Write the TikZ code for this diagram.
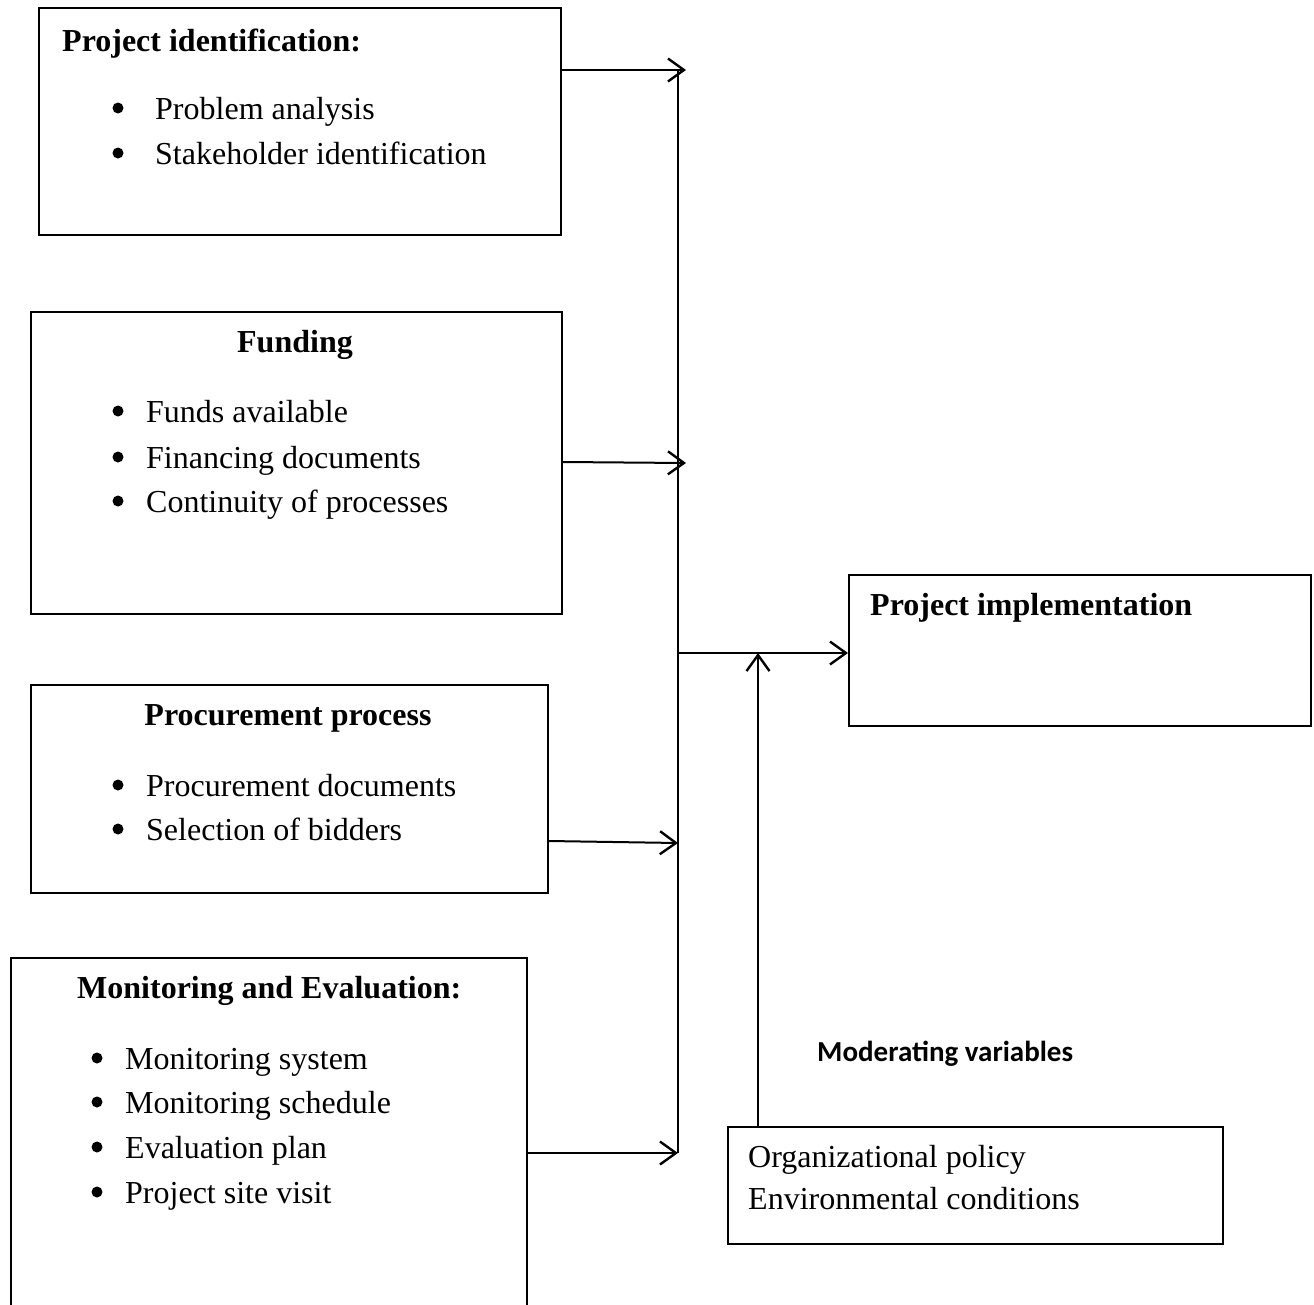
\documentclass[tikz,border=0pt]{standalone}
\usepackage{fontspec}
\setmainfont{Liberation Serif}
\newfontfamily\calib{Carlito}
\usetikzlibrary{arrows.meta}
\begin{document}
\begin{tikzpicture}[x=1pt,y=-1pt,
  box/.style={draw,line width=2.1pt,inner sep=0pt,anchor=north west},
  txt/.style={anchor=base west,inner sep=0pt,font=\fontsize{32}{38}\selectfont},
  ttl/.style={anchor=base west,inner sep=0pt,font=\fontsize{32}{38}\selectfont\bfseries},
  ttlc/.style={anchor=base,inner sep=0pt,font=\fontsize{32}{38}\selectfont\bfseries},
  bul/.style={circle,fill,inner sep=0pt,minimum size=11pt},
  conn/.style={line width=2pt},
  arr/.style={line width=2pt,-{Straight Barb[length=16pt,width=23pt,line width=2.4pt]}}]
\useasboundingbox (0,0) rectangle (1314,1304);
\clip (0,0) rectangle (1314,1304);
% boxes
\node[box,minimum width=522pt,minimum height=227pt] (b1) at (38,7) {};
\node[box,minimum width=531pt,minimum height=302pt] (b2) at (30,311) {};
\node[box,minimum width=517pt,minimum height=208pt] (b3) at (30,684) {};
\node[box,minimum width=516pt,minimum height=380pt] (b4) at (10,957) {};
\node[box,minimum width=462pt,minimum height=151pt] (b5) at (848,574) {};
\node[box,minimum width=495pt,minimum height=117pt] (b6) at (727,1126) {};
% box 1
\node[ttl] (t1) at (62,51) {Project identification:};
\node[bul] (d11) at (118,108) {};
\node[txt] (i11) at (155,119) {Problem analysis};
\node[bul] (d12) at (118,153) {};
\node[txt] (i12) at (155,164) {Stakeholder identification};
% box 2
\node[ttlc] (t2) at (295,352) {Funding};
\node[bul] (d21) at (118,411) {};
\node[txt] (i21) at (146,422) {Funds available};
\node[bul] (d22) at (118,457) {};
\node[txt] (i22) at (146,468) {Financing documents};
\node[bul] (d23) at (118,501) {};
\node[txt] (i23) at (146,512) {Continuity of processes};
% box 3
\node[ttlc] (t3) at (288,725) {Procurement process};
\node[bul] (d31) at (118,785) {};
\node[txt] (i31) at (146,796) {Procurement documents};
\node[bul] (d32) at (118,829) {};
\node[txt] (i32) at (146,840) {Selection of bidders};
% box 4
\node[ttl] (t4) at (77,998) {Monitoring and Evaluation:};
\node[bul] (d41) at (97,1058) {};
\node[txt] (i41) at (125,1069) {Monitoring system};
\node[bul] (d42) at (97,1102) {};
\node[txt] (i42) at (125,1113) {Monitoring schedule};
\node[bul] (d43) at (97,1147) {};
\node[txt] (i43) at (125,1158) {Evaluation plan};
\node[bul] (d44) at (97,1192) {};
\node[txt] (i44) at (125,1203) {Project site visit};
% box 5
\node[ttl] (t5) at (870,615) {Project implementation};
% box 6
\node[txt] (i61) at (748,1167) {Organizational policy};
\node[txt] (i62) at (748,1209) {Environmental conditions};
% moderating label
\node[anchor=base west,inner sep=0pt,font=\calib\bfseries\fontsize{29}{35}\selectfont] (mv) at (817,1061) {Moderating variables};
% connector coordinates
\coordinate (top) at (678,70);
\coordinate (bot) at (678,1153);
\coordinate (mid) at (678,653);
\coordinate (e1) at (686,70);
\coordinate (e2) at (686,463);
\coordinate (e3) at (678,843);
\coordinate (m6) at (758,653);
\draw[conn] (top) -- (bot);
\draw[arr] (b1.east |- top) -- (e1);
\draw[arr] (b2.east |- 0,462) -- (e2);
\draw[arr] (b3.east |- 0,841) -- (e3);
\draw[arr] (b4.east |- bot) -- (bot);
\draw[arr] (mid) -- (b5.west |- mid);
\draw[arr] (b6.north -| m6) -- (m6);
\end{tikzpicture}
\end{document}
